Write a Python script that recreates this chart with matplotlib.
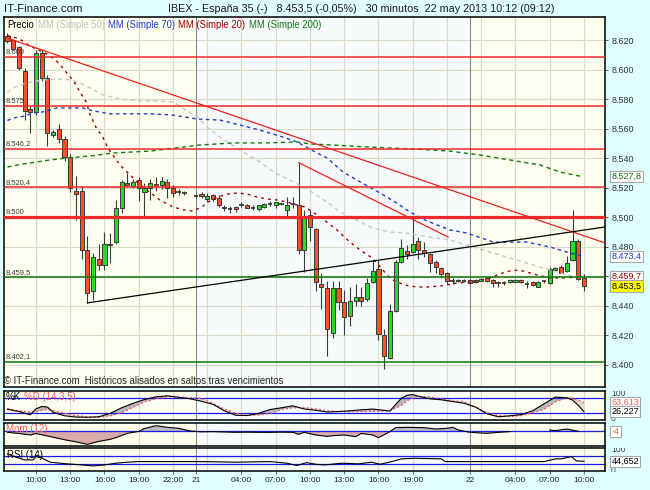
import numpy as np
import matplotlib
matplotlib.use('Agg')
import matplotlib.pyplot as plt
from matplotlib.transforms import blended_transform_factory, Bbox, TransformedBbox

plt.rcParams['font.family'] = ['Liberation Sans', 'DejaVu Sans']

nan = np.nan
# ---------------- data (30-minute candles, index 0 = 07:30 on 20 May) -------------
opens = [8623, 8620, 8615, 8599, 8573, 8571, 8611, 8594, 8556, 8560,
         8553, 8541, 8518, 8518, 8478, 8450, 8472, 8468, 8481, 8483,
         8506, 8523, 8521, 8525, 8517, 8520, 8522.5, 8521.5, 8524, 8520,
         8517, 8516.7, nan, 8514.6, 8515.5, 8512.5, 8515, 8513, 8507, 8505.6,
         8506.7, 8508.6, 8508, 8506.5, 8505.8, 8506.7, 8509, 8508, 8509, 8505,
         8509, 8508, 8478, 8501.5, 8492, 8455, 8452, 8421.4, 8452, 8442.8,
         8433, 8443.5, 8445.8, 8444.4, 8456.4, 8465, 8420, 8405, 8436.7, 8469.5,
         8477, 8476.3, 8483.9, 8478, 8475, 8470, 8465.4, 8462, 8457, 8457,
         8457, 8457.5, 8456, 8457, 8458.6, 8457.5, 8455.7, 8455.7, 8456, 8456,
         8457.5, 8454.6, 8456, 8453, 8456.6, 8455.3, 8464.4, 8466.6, 8463.7, 8471,
         8483.9, 8459]
highs = [8625, 8621, 8616, 8601, 8575, 8613, 8613, 8596, 8559, 8563,
         8555, 8543, 8528, 8521, 8487, 8476, 8482, 8490, 8489, 8512,
         8525, 8530, 8526, 8527, 8523, 8526, 8527, 8527.5, 8526, 8522,
         8519, 8518, nan, 8516, 8517, 8516.5, 8516, 8515, 8508.5, 8507.5,
         8507.5, 8510, 8509, 8508, 8508.5, 8509.5, 8511, 8510, 8510, 8514,
         8514, 8537, 8505, 8505, 8493, 8462, 8457, 8457, 8457, 8451,
         8453, 8455, 8453, 8458.7, 8471, 8471, 8424, 8441, 8471, 8485,
         8481, 8499.6, 8486.5, 8483, 8476, 8471, 8466, 8463, 8459, 8458,
         8458, 8458, 8458, 8459, 8459.5, 8458, 8457, 8457, 8458, 8458,
         8458, 8456.5, 8457, 8457, 8457, 8466, 8466, 8467.5, 8473.7, 8504.8,
         8485, 8461.4]
lows = [8618, 8613, 8600, 8566, 8557, 8569, 8592, 8548, 8554, 8550,
        8538, 8517, 8498, 8472, 8442, 8444, 8464, 8464, 8469, 8482,
        8503, 8521, 8520, 8511, 8501, 8512, 8518, 8519, 8513, 8514,
        8515, 8515, nan, 8513, 8513, 8510, 8511, 8507, 8504.5, 8503,
        8503.6, 8507, 8506, 8505, 8504.5, 8506, 8507.5, 8506.5, 8508, 8501,
        8506.5, 8475, 8463, 8484, 8450, 8438, 8406, 8418, 8437, 8420,
        8426.5, 8440, 8440, 8443.5, 8455.5, 8417, 8397, 8404, 8436, 8469,
        8471.6, 8475.5, 8472, 8473, 8463, 8462, 8459, 8455, 8455, 8456,
        8456, 8455, 8455.5, 8456.5, 8456, 8453, 8453, 8454, 8455.5, 8455.5,
        8455.5, 8452, 8453.5, 8452.5, 8455.5, 8455, 8463.5, 8462, 8463, 8470.5,
        8457.5, 8450]
closes = [8619, 8614, 8601, 8572, 8571, 8611, 8594, 8557, 8558, 8553,
          8541, 8520, 8516, 8478, 8449, 8473, 8468, 8482, 8482, 8506,
          8524, 8522, 8524, 8520, 8520, 8523, 8521, 8524.6, 8520, 8516.6,
          8516.7, 8516.7, nan, 8514.6, 8514.2, 8514.2, 8512.5, 8508, 8506, 8505.6,
          8505.8, 8508.6, 8506.5, 8506.5, 8508.2, 8509, 8509, 8510, 8509, 8508.3,
          8509, 8478, 8501, 8493.5, 8456, 8452.6, 8424, 8452, 8442.4, 8432.2,
          8443.5, 8445.8, 8443.5, 8455.3, 8463.6, 8421, 8406, 8436.7, 8470, 8479,
          8475.3, 8481.7, 8477.8, 8475.7, 8469, 8466, 8461.4, 8456.8, 8457, 8457,
          8457, 8455.3, 8457.5, 8458.2, 8456.8, 8455.3, 8455.7, 8455.7, 8457.5, 8457.5,
          8456, 8454.6, 8454, 8456.3, 8456.6, 8464.8, 8465.4, 8462.5, 8468.9, 8484,
          8458, 8453.5]

ma20_idx = [0, 2, 3.9, 7.3, 9.0, 10.1, 11.7, 12.7, 13.8, 14.5, 15.5, 16.7, 17.6, 18.5, 19.7,
            21.5, 22.7, 24.4, 26.7, 29.0, 30.8, 32.5, 34.1, 35.1, 36.9, 38.5, 40.2, 42.0,
            43.7, 45.5, 47.2, 49.0, 50.7, 52.1, 54.8, 57.7, 60.0, 61.8, 63.9, 65.0, 66.5,
            67.5, 69.6, 71.7, 73.7, 75.8, 78.8, 81.6, 84.5, 86.8, 88.6, 90.3, 92.8, 95.1,
            97.3, 100.7]
ma20 = [8623, 8621, 8616, 8609.8, 8604.4, 8599, 8591.6, 8584.8, 8578, 8569.2, 8561, 8554.3,
        8546.8, 8542, 8535.4, 8528.6, 8523.9, 8518.5, 8511.7, 8507, 8505, 8504.2, 8507,
        8510.3, 8513.7, 8515.7, 8516.4, 8515.7, 8513.7, 8512.3, 8511.7, 8510.3, 8508.3,
        8507, 8500.2, 8491.4, 8483.2, 8477.8, 8472.4, 8467.7, 8460.9, 8457.5, 8454.1,
        8452.8, 8452.8, 8453.4, 8455.5, 8456.2, 8458.9, 8462.3, 8464.3, 8463.6, 8460.9,
        8458.9, 8458.9, 8459.7]
ma50_idx = [0, 1.0, 3.4, 6.2, 9.2, 11.3, 12.7, 14.5, 16.7, 19.7, 23.2, 26.7, 29.0, 33.2,
            35.0, 37.2, 40.7, 43.7, 46.9, 49.5, 53.0, 56.0, 58.3, 61.2, 64.0, 67.0, 70.0,
            72.8, 77.5, 80.5, 86.3, 92.1, 98.0, 100.3]
ma50 = [8584.5, 8587.5, 8591, 8593, 8593.6, 8593, 8591, 8587.5, 8582.8, 8580, 8578.7,
        8578.7, 8578, 8567.9, 8561, 8554.3, 8545.5, 8538.8, 8530, 8525.2, 8517.8, 8510.3,
        8503.5, 8498.1, 8492.7, 8490, 8489.3, 8487.3, 8484.6, 8481.2, 8474.4, 8467.7,
        8460.9, 8459.5]
ma70_idx = [0, 1.0, 3.1, 4.5, 6.2, 8.7, 11.0, 13.2, 15.0, 18.0, 22.0, 25.0, 29.0, 33.2,
            37.2, 40.7, 44.2, 47.7, 50.7, 53.9, 56.0, 58.8, 61.8, 65.3, 68.2, 70.5, 73.5,
            77.5, 80.5, 85.1, 91.0, 95.0, 98.0, 100.8]
ma70 = [8565.5, 8567.2, 8568.5, 8570.6, 8571.3, 8574, 8574, 8574, 8572, 8570, 8570, 8570,
        8569.2, 8566.5, 8565.8, 8562.5, 8559, 8555, 8551, 8544.2, 8540.1, 8530.6, 8523.9,
        8516.4, 8509.6, 8503.5, 8497.5, 8491.4, 8489.3, 8483.2, 8483.2, 8479.9, 8476.5,
        8473.4]
ma200_idx = [0, 2.7, 7.5, 10.4, 14.5, 18.5, 22.0, 25.0, 33.7, 39.5, 45.5, 50.7, 53.0, 57.0,
             63.0, 71.0, 77.5, 82.8, 88.0, 93.3, 96.8, 100.3]
ma200 = [8534, 8536, 8538.8, 8540.1, 8541.5, 8543.5, 8544.2, 8544.8, 8548.9, 8550.3,
         8550.3, 8551, 8549.6, 8548.9, 8547.6, 8546.2, 8544.8, 8542.1, 8538.8, 8535.4,
         8530.6, 8527.8]

red_levels = [8608.5, 8575, 8546.2, 8520.4]
red_labels = ['8.609', '8.575', '8.546,2', '8.520,4']
thick_level, thick_label = 8500, '8.500'
green_levels = [8459.5, 8402.1]
green_labels = ['8.459,5', '8.402,1']

trend_red_long = ([-0.26, 104.68], [8621.6, 8482.6])
trend_red_short = ([51, 77.2], [8537, 8486.6])
trend_black = ([14, 104.68], [8442, 8493.4])

st_idx = [0, 2, 4, 5, 6, 7, 8, 10, 12, 14, 16, 18, 20, 22, 24, 26, 28, 30, 32, 34, 36, 38,
          40, 42, 44, 46, 48, 50, 52, 54, 56, 58, 60, 62, 64, 66, 67, 68, 69, 70, 71, 72,
          74, 76, 78, 80, 82, 84, 86, 88, 90, 92, 94, 96, 98, 99, 100, 101]
st_k = [36, 27, 14, 38, 47, 45, 24, 10, 5, 4, 6, 20, 42, 60, 75, 86, 90, 84, 78, 68, 56, 30,
        12, 11, 20, 35, 42, 50, 37, 32, 25, 27, 30, 34, 37, 32, 29, 55, 80, 92, 95, 88,
        78, 74, 67, 60, 45, 18, 6, 10, 15, 30, 58, 85, 82, 73, 52, 26.2]
st_d = [39, 30, 25, 26, 31, 36, 30, 20, 11, 6, 4, 10, 22, 44, 66, 78, 86, 85, 82, 80, 60, 37,
        20, 12, 13, 20, 35, 42, 43, 37, 30, 27, 27, 27, 28, 29, 30, 40, 52, 70, 82, 87,
        86, 76, 70, 66, 45, 22, 11, 7, 11, 22, 36, 66, 82, 80, 72, 63.6]

mo_idx = [0, 2, 4, 5, 7, 10, 12, 14, 16, 18, 19, 21, 23, 24, 26, 28, 30, 32, 34, 36, 38,
          40, 42, 44, 46, 48, 50, 51, 52, 54, 56, 57, 59, 61, 62, 64, 65, 67, 68, 70, 73,
          75, 77, 78, 79, 81, 84, 86, 88, 91, 95, 96, 98, 99, 100]
mom = [-16, -30, -48, -30, -60, -105, -130, -160, -125, -100, -80, -28, -5, 30, 64, 44, 32,
       0, -10, -8, -12, -16, -14, -16, -16, -14, -16, -40, -16, -48, -65, -56, -48, -68,
       -30, -48, -80, -8, 40, 44, 40, 24, 32, 44, 12, -16, -28, -16, -8, nan, 12, 4, 24,
       10, -4]

rs_idx = [0, 1, 3, 4.5, 5, 6, 7.5, 10, 13, 15, 17, 19, 21, 23, 28, 34, 40, 46, 49, 50.7,
          52.4, 54, 55.6, 58.6, 61.5, 63.8, 65.3, 67.3, 69, 71.4, 76, 76.7, 85, 94, 96, 97,
          98.8, 99.7, 101]
rsi = [80, 70, 51, 51, 68, 60, 40, 33, 27, 22, 27, 35, 40, 43, 43, 43, 40, 43, 35, 24, 38,
       30, 27, 35, 32, 40, 30, 43, 56, 59, 56, 43, 43, 43, 56, 56, 67, 46, 44.65]

tick_pos = [5, 11, 17, 23, 29, 33, 41, 47, 53, 59, 65, 71, 81, 89, 95, 101]
tick_lab = ['10:00', '13:00', '16:00', '19:00', '22:00', '21', '04:00', '07:00', '10:00',
            '13:00', '16:00', '19:00', '22', '04:00', '07:00', '10:00']
grid_pos = list(range(5, 102, 6))
day_sep = [33, 81]
price_ticks = list(range(8400, 8621, 20))

# ---------------- figure layout ----------------
W, H = 650, 490
fig = plt.figure(figsize=(W / 100, H / 100), dpi=100)
BG = '#E0FFFF'
fig.patch.set_facecolor(BG)

def rect(x0, y0, x1, y1):
    return [x0 / W, 1 - y1 / H, (x1 - x0) / W, (y1 - y0) / H]

XL, XR = 3.5, 605
xlim = ((XL - 7.46) / 5.708, (XR - 7.46) / 5.708)
ax = fig.add_axes(rect(XL, 17, XR, 387))
ax_st = fig.add_axes(rect(XL, 391, XR, 420))
ax_mo = fig.add_axes(rect(XL, 423.3, XR, 446))
ax_rs = fig.add_axes(rect(XL, 448.3, XR, 471))

IVORY = '#FFFFF0'
DAY2 = '#F7FBFC'
GRID = '#DCDAC8'
for a in (ax, ax_st, ax_mo, ax_rs):
    a.set_facecolor(IVORY)
    a.set_xlim(*xlim)
    a.axvspan(day_sep[0], day_sep[1], color=DAY2, zorder=0, lw=0)
    for g in grid_pos:
        a.axvline(g, color=GRID, lw=0.85, zorder=0.5)
    for s in day_sep:
        a.axvline(s, color='#8A8A8A', lw=0.8, zorder=0.6)
    for sp in a.spines.values():
        sp.set_color('black')
        sp.set_linewidth(1.1)
    a.set_xticks([])
    a.set_yticks([])

def py(y):
    return 8620 - (y - 40) / 1.477

ax.set_ylim(py(387), py(17))
for p in price_ticks:
    ax.axhline(p, color=GRID, lw=0.85, zorder=0.5)

# level lines
for lv in red_levels:
    ax.axhline(lv, color='#EE2A2A', lw=1.1, zorder=4)
ax.axhline(thick_level, color='#EE2A2A', lw=2.3, zorder=4)
for lv in green_levels:
    ax.axhline(lv, color='#0A780A', lw=1.1, zorder=4)

trL = blended_transform_factory(fig.transFigure, ax.transData)
for lv, lb in list(zip(red_levels, red_labels)) + [(thick_level, thick_label)] + list(zip(green_levels, green_labels)):
    ax.text(6 / W, lv + 1.0, lb, transform=trL, fontsize=5.4, color='#3A3A3A',
            ha='left', va='bottom', zorder=6)

# candles
idx = np.arange(len(opens))
O = np.array(opens, float); Hh = np.array(highs, float)
L = np.array(lows, float); C = np.array(closes, float)
valid = ~np.isnan(O)
ax.vlines(idx[valid], L[valid], Hh[valid], color='#3A3A3A', lw=0.8, zorder=2)
body = np.abs(C - O)
up = (C >= O) & valid & (body >= 0.8)
dn = (C < O) & valid & (body >= 0.8)
doji = valid & (body < 0.8)
ax.bar(idx[up], (C - O)[up], bottom=O[up], width=0.72, color='#22DD22',
       edgecolor='#3A3A3A', linewidth=0.7, zorder=3)
ax.bar(idx[dn], (O - C)[dn], bottom=C[dn], width=0.72, color='#FF5020',
       edgecolor='#3A3A3A', linewidth=0.7, zorder=3)
ax.hlines(O[doji], idx[doji] - 0.4, idx[doji] + 0.4, color='#3A3A3A', lw=1.3, zorder=3)

# moving averages
ax.plot(ma50_idx, ma50, color='#C8C8C8', lw=1.0, ls=(0, (3, 2.5)), zorder=3.5)
ax.plot(ma70_idx, ma70, color='#1E3CD2', lw=1.0, ls=(0, (2.5, 2.5)), zorder=3.5)
ax.plot(ma20_idx, ma20, color='#A00000', lw=1.0, ls=(0, (2, 3)), zorder=3.5)
ax.plot(ma200_idx, ma200, color='#107A10', lw=1.0, ls=(0, (3, 2.5)), zorder=3.5)

# trend lines
ax.plot(*trend_red_long, color='#EE2020', lw=0.9, zorder=5)
ax.plot(*trend_red_short, color='#EE2020', lw=0.9, zorder=5)
ax.plot(*trend_black, color='black', lw=0.9, zorder=5)

# right price axis
ax.yaxis.tick_right()
ax.set_yticks(price_ticks)
ax.set_yticklabels([f"{v / 1000:.3f}" for v in price_ticks])
ax.tick_params(axis='y', length=2.4, width=0.7, color='#555555', labelsize=6.4,
               pad=2.2, labelcolor='#333333')

def vbox(a, val, s, color, fc='white'):
    tr = blended_transform_factory(fig.transFigure, a.transData)
    a.text(611.5 / W, val, s, transform=tr, fontsize=6.5, color=color, ha='left',
           va='center', zorder=10, clip_on=False,
           bbox=dict(boxstyle='square,pad=0.12', fc=fc, ec='#A8A8A8', lw=0.8))

vbox(ax, 8527.8, '8.527,8', '#107010')
vbox(ax, 8473.4, '8.473,4', '#1E3CD2')
vbox(ax, 8459.7, '8.459,7', '#A00000')
vbox(ax, 8453.5, '8.453,5', 'black', fc='#FFFF00')

# ---------------- stochastic ----------------
def sy(y):
    return (418.3 - y) / 0.25
ax_st.set_ylim(sy(420), sy(391))
K = np.array(st_k, float); D = np.array(st_d, float)
ax_st.fill_between(st_idx, K, D, where=K >= D, interpolate=True, color='#B8B8C0', lw=0, zorder=1)
ax_st.fill_between(st_idx, K, D, where=K < D, interpolate=True, color='#E6DAD2', lw=0, zorder=1)
for lv in (80, 20):
    ax_st.axhline(lv, color='#1A1AE6', lw=0.9, zorder=2)
ax_st.plot(st_idx, D, color='#F06060', lw=1.0, ls=(0, (1.5, 1.5)), zorder=3)
ax_st.plot(st_idx, K, color='black', lw=0.8, zorder=4)

# ---------------- momentum ----------------
def my(y):
    return (431 - y) * 12
ax_mo.set_ylim(my(446), my(423.3))
M = np.array(mom, float)
ax_mo.fill_between(mo_idx, M, 0, where=M < 0, interpolate=True, color='#D8AAAA', lw=0, zorder=1)
ax_mo.fill_between(mo_idx, M, 0, where=M >= 0, interpolate=True, color='#BCBCC4', lw=0, zorder=1)
ax_mo.axhline(0, color='#1A1AE6', lw=0.9, zorder=2)
ax_mo.plot(mo_idx, M, color='black', lw=0.8, zorder=4)

# ---------------- RSI ----------------
def ry(y):
    return (470.5 - y) / 0.2075
ax_rs.set_ylim(ry(471), ry(448.3))
for lv in (70, 30):
    ax_rs.axhline(lv, color='#1A1AE6', lw=0.9, zorder=2)
ax_rs.plot(rs_idx, rsi, color='black', lw=0.8, zorder=4)

ax_rs.set_xticks(tick_pos)
ax_rs.set_xticklabels(tick_lab)
ax_rs.tick_params(axis='x', length=2, width=0.6, color='#555555', labelsize=6.0, pad=2.5,
                  labelcolor='#222222')

# side labels for sub panels (clipped to the panel's band)
def side(a, val, s, y0, y1):
    tr = blended_transform_factory(fig.transFigure, a.transData)
    t = a.text(611 / W, val, s, transform=tr, fontsize=6.2, color='#444444', ha='left',
               va='center', zorder=8)
    t.set_clip_box(TransformedBbox(Bbox([[605 / W, 1 - y1 / H], [1.0, 1 - y0 / H]]),
                                   fig.transFigure))
    t.set_clip_on(True)

side(ax_st, 100, '100', 390.5, 421)
side(ax_st, 0, '0', 390.5, 421)
side(ax_rs, 100, '100', 448, 472)
side(ax_rs, 0, '0', 448, 472)

vbox(ax_st, 63.613, '63,613', '#F06060')
vbox(ax_st, 26.227, '26,227', 'black')
vbox(ax_mo, -4, '-4', '#F06060')
vbox(ax_rs, 44.652, '44,652', 'black')

# ---------------- texts ----------------
fig.canvas.draw()
rnd = fig.canvas.get_renderer()

def fit(x_px, y_px, s, target, color='black'):
    t = fig.text(x_px / W, 1 - y_px / H, s, fontsize=10, color=color, ha='left', va='center')
    w = t.get_window_extent(rnd).width
    t.set_fontsize(10 * target / w)
    return t

fit(4, 8.5, 'IT-Finance.com', 78.5, '#1A1A1A')
fit(168, 8.5, 'IBEX - España 35 (-)   8.453,5 (-0,05%)   30 minutos  22 may 2013 10:12 (09:12)',
    387, '#1A1A1A')
fit(4.5, 381, '© IT-Finance.com  Históricos alisados en saltos tras vencimientos', 280, '#222222')

def seq(x_px, y_px, parts, total, gap_px=3.0):
    # measure at size 10
    ts = []
    widths = []
    for s, c in parts:
        t = fig.text(0, 0, s, fontsize=10, color=c, ha='left', va='center')
        widths.append(t.get_window_extent(rnd).width)
        ts.append(t)
    scale = (total - gap_px * (len(parts) - 1)) / sum(widths)
    x = x_px
    for t, w in zip(ts, widths):
        t.set_fontsize(10 * scale)
        t.set_position((x / W, 1 - y_px / H))
        x += w * scale + gap_px
    return ts

seq(7.5, 25, [('Precio', 'black'), ('MM (Simple 50)', '#C0C0C0'), ('MM (Simple 70)', '#1E3CD2'),
              ('MM (Simple 20)', '#A00000'), ('MM (Simple 200)', '#107A10')], 314)
seq(6, 397.5, [('%K', 'black'), ('%D (14,3,5)', '#F06060')], 70, gap_px=2.5)
seq(6, 429, [('Mom (12)', '#F06060')], 42)
seq(7, 454.5, [('RSI (14)', 'black')], 36)

fig.savefig('out.png', dpi=100, facecolor=BG)
